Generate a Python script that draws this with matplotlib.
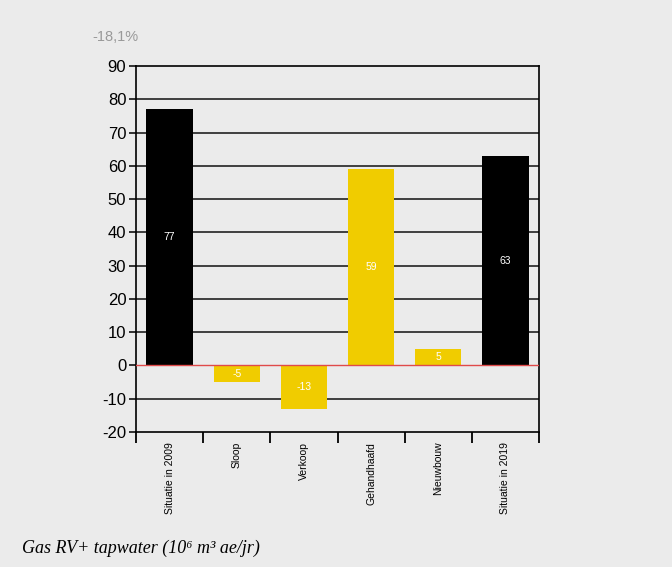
import numpy as np
import matplotlib.pyplot as plt

# gegevens
categories = ['Situatie in 2009', 'Sloop', 'Verkoop', 'Gehandhaafd', 'Nieuwbouw', 'Situatie in 2019']
values = [77, -5, -13, 59, 5, 63]
bar_colors = ['#000000', '#f0cc00', '#f0cc00', '#f0cc00', '#f0cc00', '#000000']
y_ticks = [-20, -10, 0, 10, 20, 30, 40, 50, 60, 70, 80, 90]
change_label = '-18,1%'
unit_label = 'Gas RV+ tapwater (10⁶ m³ ae/jr)'

bg = '#ebebeb'
sans = ['Liberation Sans', 'DejaVu Sans']

fig = plt.figure(figsize=(6.72, 5.67), dpi=100, facecolor=bg)
ax = fig.add_axes([0.2024, 0.2381, 0.5997, 0.6455], facecolor=bg)

x = np.arange(len(categories))
ax.set_xlim(-0.5, len(categories) - 0.5)
ax.set_ylim(-20, 90)

# rasterlijnen
for t in y_ticks[1:-1]:
    if t == 0:
        continue
    ax.axhline(t, color='#111111', lw=1.1, zorder=1)

ax.bar(x, values, width=0.69, color=bar_colors, zorder=2)
ax.axhline(0, color='#e04a4a', lw=1.0, zorder=3)

for xi, v in zip(x, values):
    ax.text(xi, v / 2, str(v), ha='center', va='center', color='white',
            fontsize=7.5, family=sans, zorder=4)

ax.set_yticks(y_ticks)
ax.set_yticklabels([str(t) for t in y_ticks], family=sans, fontsize=12)
ax.tick_params(axis='y', length=5, width=1.1, pad=2, color='black')

ax.set_xticks(x)
ax.set_xticklabels(categories, rotation=90, family=sans, fontsize=7.5, va='top')
ax.tick_params(axis='x', which='major', length=0, pad=7)
ax.set_xticks(np.arange(-0.5, len(categories)), minor=True)
ax.tick_params(axis='x', which='minor', length=8, width=1.3, color='black')

for s in ax.spines.values():
    s.set_color('black')
    s.set_linewidth(1.2)

fig.text(92 / 672, 1 - 37 / 567, change_label, color='#999999', fontsize=10.5,
         family=sans, ha='left', va='center')
fig.text(22 / 672, 1 - 548 / 567, unit_label, fontsize=13, style='italic',
         family=['Liberation Serif', 'DejaVu Serif'], ha='left', va='center')

fig.savefig('out.png', dpi=100, facecolor=bg)
